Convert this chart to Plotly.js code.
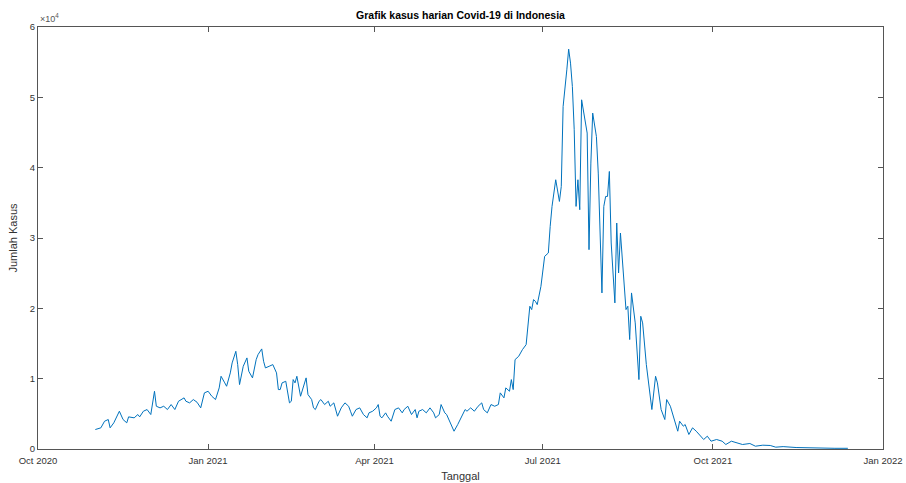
<!DOCTYPE html>
<html>
<head>
<meta charset="utf-8">
<script src="https://cdn.plot.ly/plotly-3.0.1.min.js"></script>
<style>html,body{margin:0;padding:0;background:#fff;}#chart{width:906px;height:483px;}</style>
</head>
<body>
<div id="chart"></div>
<script>
// Dates and daily cases
const tanggal = [
"2020-11-01","2020-11-04","2020-11-06","2020-11-08","2020-11-09","2020-11-11","2020-11-14","2020-11-16","2020-11-18","2020-11-19",
"2020-11-22","2020-11-24","2020-11-25","2020-11-27","2020-11-29","2020-12-01","2020-12-03","2020-12-04","2020-12-06","2020-12-08",
"2020-12-10","2020-12-12","2020-12-14","2020-12-16","2020-12-19","2020-12-20","2020-12-22","2020-12-24","2020-12-26","2020-12-28",
"2020-12-30","2021-01-01","2021-01-03","2021-01-05","2021-01-07","2021-01-08","2021-01-10","2021-01-11","2021-01-13","2021-01-14",
"2021-01-16","2021-01-17","2021-01-18","2021-01-20","2021-01-22","2021-01-23","2021-01-25","2021-01-27","2021-01-28","2021-01-30",
"2021-01-31","2021-02-01","2021-02-03","2021-02-05","2021-02-07","2021-02-08","2021-02-09","2021-02-10","2021-02-12","2021-02-14",
"2021-02-15","2021-02-16","2021-02-17","2021-02-18","2021-02-20","2021-02-23","2021-02-24","2021-02-26","2021-02-27","2021-02-28",
"2021-03-02","2021-03-03","2021-03-05","2021-03-07","2021-03-08","2021-03-10","2021-03-12","2021-03-14","2021-03-16","2021-03-18",
"2021-03-19","2021-03-20","2021-03-22","2021-03-24","2021-03-26","2021-03-28","2021-03-29","2021-03-31","2021-04-02","2021-04-03",
"2021-04-04","2021-04-05","2021-04-07","2021-04-08","2021-04-10","2021-04-12","2021-04-14","2021-04-16","2021-04-17","2021-04-19",
"2021-04-21","2021-04-23","2021-04-24","2021-04-25","2021-04-27","2021-04-29","2021-05-01","2021-05-03","2021-05-04","2021-05-06",
"2021-05-07","2021-05-09","2021-05-10","2021-05-12","2021-05-13","2021-05-14","2021-05-16","2021-05-18","2021-05-20","2021-05-21",
"2021-05-23","2021-05-25","2021-05-27","2021-05-29","2021-05-30","2021-06-01","2021-06-03","2021-06-05","2021-06-07","2021-06-08",
"2021-06-10","2021-06-11","2021-06-13","2021-06-14","2021-06-15","2021-06-16","2021-06-18","2021-06-20","2021-06-22","2021-06-24",
"2021-06-25","2021-06-26","2021-06-27","2021-06-28","2021-06-30","2021-07-02","2021-07-04","2021-07-05","2021-07-06","2021-07-08",
"2021-07-10","2021-07-11","2021-07-12","2021-07-14","2021-07-15","2021-07-16","2021-07-17","2021-07-18","2021-07-19","2021-07-20",
"2021-07-21","2021-07-22","2021-07-24","2021-07-25","2021-07-26","2021-07-27","2021-07-28","2021-07-30","2021-07-31","2021-08-02",
"2021-08-03","2021-08-04","2021-08-05","2021-08-06","2021-08-07","2021-08-09","2021-08-10","2021-08-11","2021-08-12","2021-08-13",
"2021-08-15","2021-08-16","2021-08-17","2021-08-18","2021-08-20","2021-08-22","2021-08-23","2021-08-24","2021-08-26","2021-08-29",
"2021-08-31","2021-09-01","2021-09-03","2021-09-05","2021-09-06","2021-09-08","2021-09-10","2021-09-12","2021-09-13","2021-09-15",
"2021-09-16","2021-09-18","2021-09-20","2021-09-22","2021-09-26","2021-09-28","2021-09-30","2021-10-03","2021-10-06","2021-10-08",
"2021-10-11","2021-10-14","2021-10-17","2021-10-21","2021-10-24","2021-10-28","2021-11-01","2021-11-04","2021-11-08","2021-11-15",
"2021-11-22","2021-11-29","2021-12-06","2021-12-13"
];
const kasus = [
2770,3010,3950,4190,3010,3720,5370,4190,3720,4570,
4430,4900,4570,5370,5610,4900,8210,6080,5850,6080,
5610,6320,5610,6790,7270,6790,6560,7030,6650,5850,
7980,8210,7500,7030,8690,10340,9400,8920,10820,12240,
13890,12000,9160,11760,12950,11050,10110,12710,13420,14230,
12470,11530,11760,12000,10820,8450,8450,9400,9630,6560,
6790,9870,9400,10340,7500,10110,7740,7030,5850,5610,
6790,7030,6320,6790,6080,6560,4660,5850,6560,6080,
5370,4660,5610,5850,4900,4430,5140,5370,5850,6320,
4660,4430,5140,4660,3950,5610,5850,5140,5610,6080,
4900,5610,4430,5370,5610,5140,5850,5140,4430,4900,
6320,5140,4900,3710,3010,2530,3480,4660,5610,5370,
5850,5370,6080,6560,5610,5140,6320,6080,6320,7980,
7270,8690,8210,9870,8450,12710,13190,14130,14840,20290,
19820,21240,21000,20530,23130,27390,27870,31650,34490,38280,
35200,37330,48700,53910,56850,54860,51540,45390,34490,38280,
34020,49650,46810,44920,28340,40650,47760,44430,39230,22190,
34490,35910,35910,39460,29290,20770,32130,25030,30710,27390,
19820,20290,15560,22190,17930,9870,18870,17930,12000,5610,
10340,9400,5610,4190,7030,6080,4190,2530,3950,3240,
3480,2060,3010,2530,1350,1820,1110,1350,1110,640,
1110,880,640,780,400,540,500,260,340,210,
150,100,100,100
];
const tickTanggal = ["2020-10-01","2021-01-01","2021-04-01","2021-07-01","2021-10-01","2022-01-01"];
const tickLabelX = ["Oct 2020","Jan 2021","Apr 2021","Jul 2021","Oct 2021","Jan 2022"];
const tickY = [0,10000,20000,30000,40000,50000,60000];
const tickLabelY = ["0","1","2","3","4","5","6"];

const font = "Liberation Sans, Arial, Helvetica, sans-serif";
const axisCol = "#555555";

const trace = {
  x: tanggal, y: kasus, type: "scatter", mode: "lines",
  line: {color: "#0072BD", width: 1}, hoverinfo: "x+y"
};

const layout = {
  width: 906, height: 483,
  margin: {l: 38, r: 23, t: 27, b: 34, pad: 0},
  paper_bgcolor: "#fff", plot_bgcolor: "#fff",
  showlegend: false,
  font: {family: font, color: "#262626", size: 10},
  title: {text: "<b>Grafik kasus harian Covid-19 di Indonesia</b>", x: 0.5, xref: "paper",
          y: 1 - 15/483, yref: "container", yanchor: "middle",
          font: {family: font, size: 10.5, color: "#000"}},
  xaxis: {
    type: "date", range: ["2020-10-01", "2022-01-01"],
    tickvals: tickTanggal, ticktext: tickLabelX,
    ticks: "inside", ticklen: 5, tickwidth: 1, tickcolor: axisCol,
    showline: true, linecolor: axisCol, linewidth: 1, mirror: "allticks",
    showgrid: false, zeroline: false, ticklabelstandoff: 3,
    tickfont: {family: font, size: 9.5, color: "#333"},
    title: {text: "Tanggal", font: {family: font, size: 11, color: "#333"}, standoff: 6},
    automargin: false
  },
  yaxis: {
    range: [0, 60000],
    tickvals: tickY, ticktext: tickLabelY,
    ticks: "inside", ticklen: 5, tickwidth: 1, tickcolor: axisCol,
    showline: true, linecolor: axisCol, linewidth: 1, mirror: "allticks",
    showgrid: false, zeroline: false,
    tickfont: {family: font, size: 9.5, color: "#333"},
    title: {text: "Jumlah Kasus", font: {family: font, size: 11, color: "#333"}, standoff: 9},
    automargin: false
  },
  annotations: [{
    text: "×10<sup>4</sup>", xref: "paper", yref: "paper", x: 0, y: 1,
    xanchor: "left", yanchor: "bottom", showarrow: false, yshift: 1,
    font: {family: font, size: 9, color: "#555"}
  }]
};

Plotly.newPlot("chart", [trace], layout, {displayModeBar: false, staticPlot: true});
</script>
</body>
</html>
